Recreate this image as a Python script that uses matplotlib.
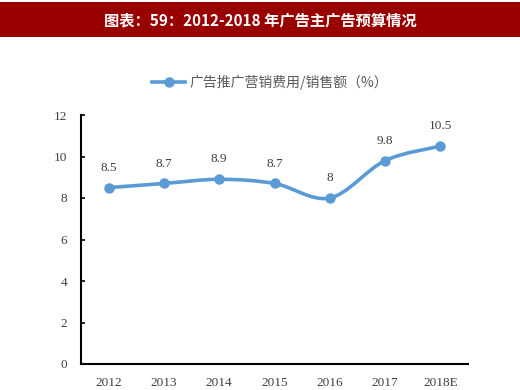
import matplotlib
matplotlib.use("Agg")
import matplotlib.pyplot as plt
from matplotlib.path import Path
from matplotlib.patches import PathPatch, Rectangle
import numpy as np

plt.rcParams['font.family'] = ['Liberation Serif', 'Noto Sans CJK SC']

title = "图表：59：2012-2018 年广告主广告预算情况"
legend_label = "广告推广营销费用/销售额（%）"
categories = ["2012", "2013", "2014", "2015", "2016", "2017", "2018E"]
values = [8.5, 8.7, 8.9, 8.7, 8.0, 9.8, 10.5]
value_labels = ["8.5", "8.7", "8.9", "8.7", "8", "9.8", "10.5"]
yticks = [0, 2, 4, 6, 8, 10, 12]

line_color = "#5B9BD5"
W, H = 520, 390
fig = plt.figure(figsize=(5.2, 3.9), dpi=100)

# title banner
fig.patches.append(Rectangle((0, 1 - 37 / H), 1, 35 / H, transform=fig.transFigure,
                             facecolor="#990000", edgecolor="none"))
fig.text(0.5, 1 - 20 / H, title, color="white", fontsize=11, fontweight="bold",
         ha="center", va="center", family=['Noto Sans CJK SC', 'DejaVu Sans'])

ax = fig.add_axes([81 / W, 1 - 364 / H, (468 - 81) / W, (364 - 115) / H])
x = np.arange(len(categories))

# smooth curve (Catmull-Rom to Bezier) through data points
pts = np.column_stack([x, values]).astype(float)
verts = [tuple(pts[0])]
codes = [Path.MOVETO]
n = len(pts)
for i in range(n - 1):
    p0 = pts[i - 1] if i > 0 else pts[i]
    p1 = pts[i]
    p2 = pts[i + 1]
    p3 = pts[i + 2] if i + 2 < n else pts[i + 1]
    c1 = p1 + (p2 - p0) / 6.0
    c2 = p2 - (p3 - p1) / 6.0
    verts += [tuple(c1), tuple(c2), tuple(p2)]
    codes += [Path.CURVE4] * 3
ax.add_patch(PathPatch(Path(verts, codes), facecolor="none", edgecolor=line_color,
                       lw=2.6, capstyle="round", joinstyle="round", zorder=3))
ax.plot(x, values, linestyle="none", marker="o", ms=6.5, color=line_color, zorder=4)

for xi, v, lab in zip(x, values, value_labels):
    ax.annotate(lab, (xi, v), xytext=(0, 10), textcoords="offset points",
                ha="center", va="bottom", fontsize=9.5, color="#404040")

ax.set_xlim(-0.5, len(categories) - 0.5)
ax.set_ylim(0, 12)
ax.set_yticks(yticks)
ax.set_xticks(x)
ax.set_xticklabels(categories)
ax.tick_params(axis="x", length=0, pad=9, labelsize=9.5, labelcolor="#404040")
ax.tick_params(axis="y", direction="in", length=3, width=1.2, pad=10, labelsize=9.5,
               labelcolor="#404040")
for s in ["top", "right"]:
    ax.spines[s].set_visible(False)
for s in ["left", "bottom"]:
    ax.spines[s].set_linewidth(1.5)
    ax.spines[s].set_color("black")

# legend
leg = ax.legend([plt.Line2D([], [], color=line_color, lw=2.6, marker="o", ms=6.5)],
                [legend_label], loc="center", bbox_to_anchor=(270 / W, 1 - 82 / H),
                bbox_transform=fig.transFigure, frameon=False, handlelength=2.4,
                handletextpad=0.3,
                prop={'family': ['Noto Sans CJK SC'], 'size': 10})
for t in leg.get_texts():
    t.set_color("#595959")

fig.savefig("out.png", dpi=100)
